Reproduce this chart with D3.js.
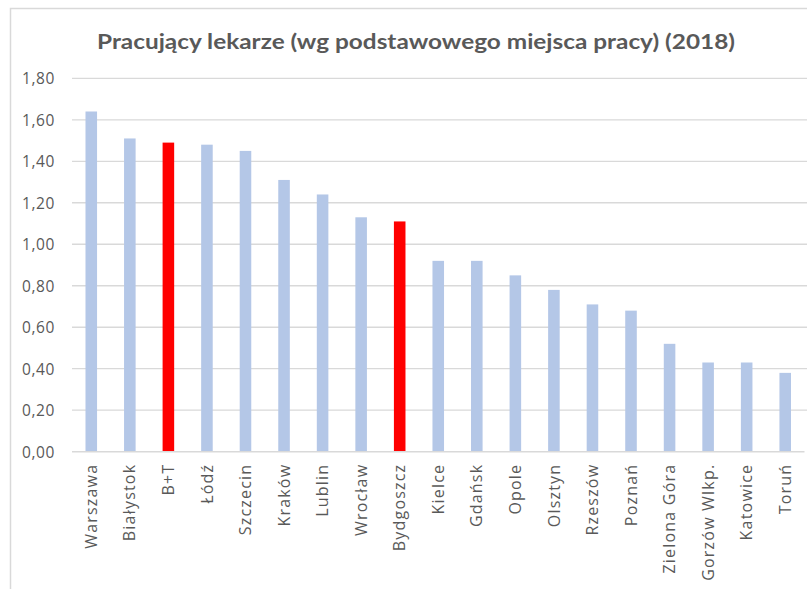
<!DOCTYPE html>
<html><head><meta charset="utf-8">
<script src="https://cdn.jsdelivr.net/npm/d3@7"></script>
<style>body{margin:0;background:#fff}svg{display:block}</style>
</head><body>
<script>
const categories = ["Warszawa","Białystok","B+T","Łódź","Szczecin","Kraków","Lublin","Wrocław","Bydgoszcz","Kielce","Gdańsk","Opole","Olsztyn","Rzeszów","Poznań","Zielona Góra","Gorzów Wlkp.","Katowice","Toruń"];
const values = [1.64,1.51,1.49,1.48,1.45,1.31,1.24,1.13,1.11,0.92,0.92,0.85,0.78,0.71,0.68,0.52,0.43,0.43,0.38];
const highlighted = ["B+T","Bydgoszcz"];
const yTicks = [0,0.2,0.4,0.6,0.8,1.0,1.2,1.4,1.6,1.8];
const title = "Pracujący lekarze (wg podstawowego miejsca pracy) (2018)";

const W = 807, H = 589;
const svg = d3.select("body").append("svg").attr("width", W).attr("height", H);

// chart border (only top/left visible)
svg.append("path").attr("d", `M10.5,${H} V8.5 H${W}`).attr("fill","none").attr("stroke","#d9d9d9").attr("stroke-width",1.5);

const x = d3.scaleBand().domain(categories).range([72, 804.5]).paddingInner(0.7).paddingOuter(0.35);
const y = d3.scaleLinear().domain([0, 1.8]).range([451.7, 78.3]);

// gridlines
svg.append("g").selectAll("line").data(yTicks.slice(1)).join("line")
  .attr("x1", 72).attr("x2", 807).attr("y1", d => y(d)).attr("y2", d => y(d))
  .attr("stroke", "#d9d9d9").attr("stroke-width", 1.3);

// bars
svg.append("g").selectAll("rect").data(categories).join("rect")
  .attr("x", d => x(d)).attr("width", x.bandwidth())
  .attr("y", (d,i) => y(values[i])).attr("height", (d,i) => y(0) - y(values[i]))
  .attr("fill", d => highlighted.includes(d) ? "#ff0000" : "#b4c7e7");

// x axis line
svg.append("line").attr("x1", 72).attr("x2", 804.5).attr("y1", y(0)).attr("y2", y(0))
  .attr("stroke", "#d9d9d9").attr("stroke-width", 1.5);

// y axis labels
const yAxis = d3.axisLeft(y).tickValues(yTicks).tickSize(0).tickPadding(0)
  .tickFormat(d => d3.format(".2f")(d).replace(".", ","));
const yg = svg.append("g").attr("transform", "translate(55,0)").call(yAxis);
yg.select(".domain").remove();
yg.selectAll("text").attr("font-family", "'Open Sans', sans-serif").attr("font-size", 15.5)
  .attr("fill", "#595959").attr("letter-spacing", "0.6px").attr("dy", "0.35em");

// x axis labels
const xAxis = d3.axisBottom(x).tickSize(0).tickPadding(0);
const xg = svg.append("g").attr("transform", `translate(0,${y(0)})`).call(xAxis);
xg.select(".domain").remove();
xg.selectAll("text")
  .attr("font-family", "'Open Sans', sans-serif").attr("font-size", 16).attr("fill", "#595959")
  .attr("letter-spacing", "1.2px")
  .attr("transform", "rotate(-90)")
  .attr("text-anchor", "end").attr("x", -12).attr("y", 0).attr("dy", "0.35em");

// title
svg.append("text").attr("x", 416).attr("y", 49).attr("text-anchor", "middle")
  .attr("font-family", "Lato, sans-serif").attr("font-weight", "bold").attr("font-size", 20)
  .attr("fill", "#595959").attr("textLength", 638).attr("lengthAdjust", "spacingAndGlyphs")
  .text(title);
</script>
</body></html>
